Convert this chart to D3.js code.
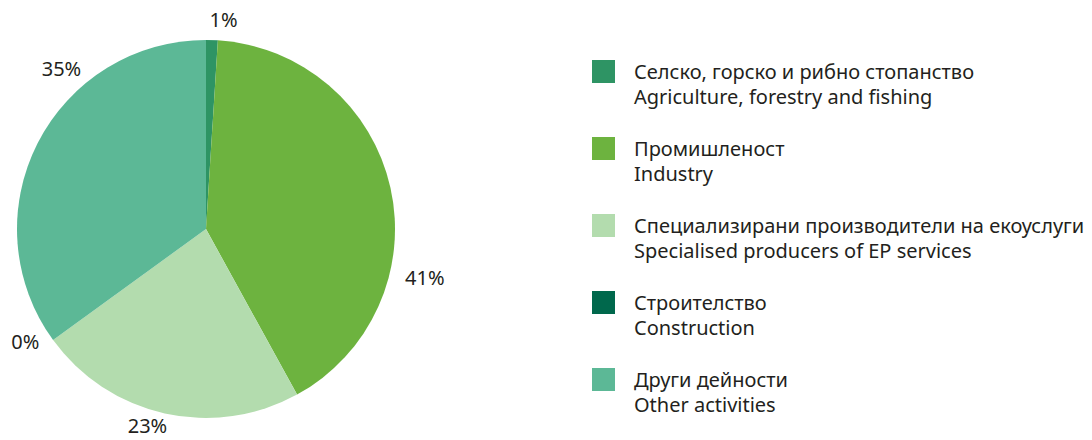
<!DOCTYPE html>
<html><head><meta charset="utf-8">
<script src="https://cdn.jsdelivr.net/npm/d3@7"></script>
<style>body{margin:0;background:#fff}svg{display:block}</style>
</head><body>
<svg id="chart" width="1092" height="440"></svg>
<script>
const categoriesBg = ["Селско, горско и рибно стопанство","Промишленост","Специализирани производители на екоуслуги","Строителство","Други дейности"];
const categoriesEn = ["Agriculture, forestry and fishing","Industry","Specialised producers of EP services","Construction","Other activities"];
const values = [1, 41, 23, 0, 35];
const valueLabels = ["1%","41%","23%","0%","35%"];
const colors = ["#2e9464","#6db33f","#b3dcae","#00684c","#5cb896"];
// label placement (angular nudge in degrees, radius) – style only
const labelNudge = [3, 25, 4, 4, 21];
const labelRadius = [210, 224, 205, 213, 216];

const svg = d3.select("#chart");
const cx = 206, cy = 229, R = 189;
const g = svg.append("g").attr("transform", `translate(${cx},${cy})`);
const pie = d3.pie().sort(null).value(d => d)(values);
const arc = d3.arc().innerRadius(0).outerRadius(R);
g.selectAll("path").data(pie).join("path")
  .attr("d", arc).attr("fill", (d,i) => colors[i]);

const font = "'Noto Sans', sans-serif";
g.selectAll("text.lbl").data(pie).join("text").attr("class","lbl")
  .each(function(d,i){
    const a = (d.startAngle + d.endAngle)/2 + labelNudge[i]*Math.PI/180;
    const r = labelRadius[i];
    d3.select(this).attr("x", Math.sin(a)*r).attr("y", -Math.cos(a)*r);
  })
  .attr("text-anchor","middle").attr("dominant-baseline","central")
  .attr("font-family", font).attr("font-size", 20).attr("fill","#231f20")
  .text((d,i) => valueLabels[i]);

const y = d3.scaleBand().domain(d3.range(categoriesBg.length)).range([60, 445]).paddingInner(0);
const leg = svg.append("g");
const items = leg.selectAll("g").data(categoriesBg).join("g")
  .attr("transform", (d,i) => `translate(592,${y(i)})`);
items.append("rect").attr("width",23).attr("height",23).attr("fill",(d,i)=>colors[i]);
items.append("text").attr("x",42).attr("y",19).attr("font-family",font).attr("font-size",20).attr("fill","#231f20").text(d=>d);
items.append("text").attr("x",42).attr("y",44).attr("font-family",font).attr("font-size",20).attr("fill","#231f20").text((d,i)=>categoriesEn[i]);
</script>
</body></html>
